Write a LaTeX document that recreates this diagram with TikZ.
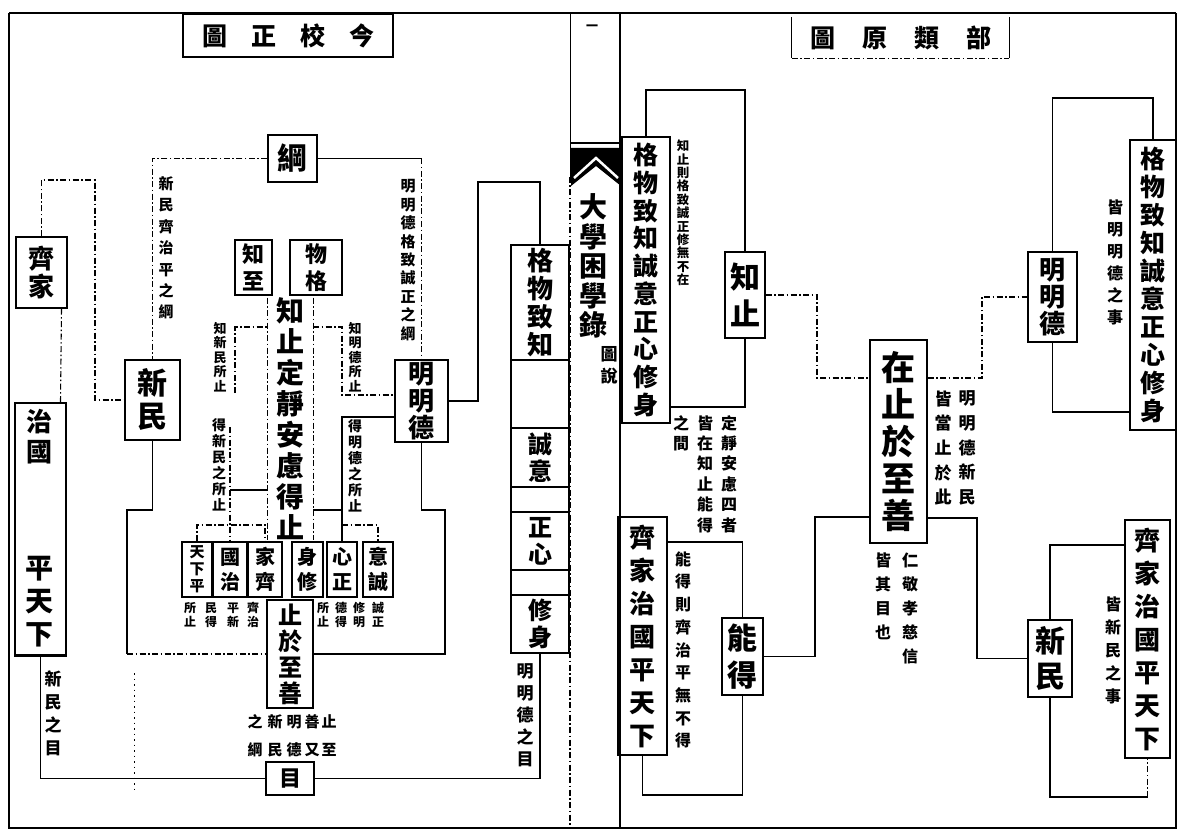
\documentclass[tikz,border=0pt]{standalone}
\usepackage{fontspec}
\setmainfont{Noto Sans CJK TC}
\usetikzlibrary{calc}
\tikzset{
 ln/.style={line width=1.3pt},
 dsh/.style={line width=1.1pt, dash pattern=on 6pt off 2.5pt on 1.5pt off 2.5pt},
 dot/.style={line width=1pt, dash pattern=on 1.5pt off 4pt},
 bx/.style={draw, line width=1.2pt, inner sep=0pt, align=center},
 vt/.style={inner sep=0pt, align=center},
 fs/.style 2 args={font=\fontsize{#1}{#2}\selectfont\bfseries}
}
\begin{document}
\begin{tikzpicture}[x=1pt,y=-1pt]
\useasboundingbox (0,0) rectangle (1183,837);
\fill[white] (0,0) rectangle (1183,837);
% frame
\draw[line width=2.6pt] (9,13) -- (1176,13);
\draw[line width=2.6pt] (9,13) -- (9,828) -- (1176,828) -- (1176,13);
% ===== left half =====
\node[bx, fs={25}{28}, minimum width=210, minimum height=43] (lt) at (288,35.5) {圖\hspace{24pt}正\hspace{24pt}校\hspace{24pt}今};
\node[bx, fs={30}{34}, minimum width=49, minimum height=47] (gang) at (292.5,158.5) {綱};
\node[bx, fs={30}{33}, minimum width=55, minimum height=80] (xinmin) at (152.5,400) {新\\民};
\node[bx, fs={26}{27}, minimum width=53, minimum height=82] (mmd) at (421.5,401) {明\\明\\德};
\node[bx, fs={26}{28}, minimum width=51, minimum height=71] (qijia) at (41.5,272.5) {齊\\家};
\node[bx, minimum width=51, minimum height=252] (lcol) at (40.5,529) {};
\node[vt, fs={26}{30}] (zhiguo) at (39,437) {治\\國};
\node[vt, fs={28}{33}] (ptx) at (39,602) {平\\天\\下};
\draw[line width=2.6pt] (lcol.south west) -- (lcol.south east);
\node[bx, fs={22}{27}, minimum width=37, minimum height=55] (zhizhi) at (253.5,267.5) {知\\至};
\node[bx, fs={22}{27}, minimum width=52, minimum height=55] (wuge) at (316,267.5) {物\\格};
\node[vt, fs={28}{31}, minimum width=45, minimum height=242] (cc) at (290.5,419) {知\\止\\定\\靜\\安\\慮\\得\\止};
\draw[dsh] (cc.north west) -- (cc.south west);
\draw[dsh] (cc.north east) -- (cc.south east);
% row boxes
\node[bx, fs={15}{17}, minimum width=30, minimum height=55] (tx) at (197,569.5) {天\\下\\平};
\node[bx, fs={20}{25}, minimum width=34, minimum height=55] (gz) at (230,569.5) {國\\治};
\node[bx, fs={20}{25}, minimum width=34, minimum height=55] (jq) at (265,569.5) {家\\齊};
\node[bx, fs={20}{25}, minimum width=31, minimum height=55] (sx) at (307.5,569.5) {身\\修};
\node[bx, fs={20}{25}, minimum width=30, minimum height=55] (xz) at (342,569.5) {心\\正};
\node[bx, fs={20}{25}, minimum width=30, minimum height=55] (yc) at (378,569.5) {意\\誠};
\node[bx, fs={24}{26}, minimum width=46, minimum height=108] (zyzs) at (290,654) {止\\於\\至\\善};
\node[bx, fs={22}{24}, minimum width=48, minimum height=33, line width=1.7pt] (mu) at (290,778.5) {目};
% column boxes
\node[bx, fs={26}{28}, minimum width=58, minimum height=115] (gwzz) at (540,302.5) {格\\物\\致\\知};
\node[bx, minimum width=58, minimum height=68] (e1) at (540,394) {};
\node[bx, fs={24}{27}, minimum width=58, minimum height=59] (cy) at (540,457.5) {誠\\意};
\node[bx, minimum width=58, minimum height=25] (e2) at (540,499.5) {};
\node[bx, fs={24}{27}, minimum width=58, minimum height=58] (zx) at (540,541) {正\\心};
\node[bx, minimum width=58, minimum height=25] (e3) at (540,582.5) {};
\node[bx, fs={24}{27}, minimum width=58, minimum height=58] (xs) at (540,624) {修\\身};
% labels left
\node[vt, fs={15}{21.4}] (l1) at (166,248) {新\\民\\齊\\治\\平\\之\\綱};
\node[vt, fs={15}{18.4}] (l2) at (408,260) {明\\明\\德\\格\\致\\誠\\正\\之\\綱};
\node[vt, fs={13}{14.6}] (l3) at (220,357) {知\\新\\民\\所\\止};
\node[vt, fs={14}{16}] (l4) at (219,465) {得\\新\\民\\之\\所\\止};
\node[vt, fs={13}{14.6}] (l5) at (355,357) {知\\明\\德\\所\\止};
\node[vt, fs={14}{16}] (l6) at (355,466) {得\\明\\德\\之\\所\\止};
\node[vt, fs={17}{23}] (l7) at (53,713) {新\\民\\之\\目};
\node[vt, fs={17}{22}] (l8) at (525,715) {明\\明\\德\\之\\目};
% sub labels under row
\node[vt, fs={12}{14}] (s1) at (190,615) {所\\止};
\node[vt, fs={12}{14}] (s2) at (211,615) {民\\得};
\node[vt, fs={12}{14}] (s3) at (233,615) {平\\新};
\node[vt, fs={12}{14}] (s4) at (253,615) {齊\\治};
\node[vt, fs={12}{14}] (s5) at (323,615) {所\\止};
\node[vt, fs={12}{14}] (s6) at (341,615) {德\\得};
\node[vt, fs={12}{14}] (s7) at (359,615) {修\\明};
\node[vt, fs={12}{14}] (s8) at (378,615) {誠\\正};
% bottom label
\node[vt, fs={15}{28}] (m1) at (255,736) {之\\綱};
\node[vt, fs={15}{28}] (m2) at (275,736) {新\\民};
\node[vt, fs={15}{28}] (m3) at (294,736) {明\\德};
\node[vt, fs={15}{28}] (m4) at (312,736) {善\\又};
\node[vt, fs={15}{28}] (m5) at (329,736) {止\\至};
% connectors left
\draw[dsh] (gang.west) -| (xinmin.north);
\draw[ln] (gang.east) -- (gang.east -| mmd.north);
\draw[dsh] (gang.east -| mmd.north) -- (mmd.north);
\coordinate (c1) at (478,182);
\draw[ln] (mmd.east) -| (c1) -| (gwzz.north);
\coordinate (c2) at (95,180);
\draw[dsh] (qijia.north) |- (c2) |- (xinmin.west);
\draw[dsh] ([xshift=20pt]qijia.south) -- ([xshift=20pt]lcol.north);
\coordinate (rl) at (127,510);
\coordinate (rr) at (445,510);
\draw[ln] (xinmin.south) |- (rl) -- (rl |- zyzs.west);
\draw[dsh] (rl |- zyzs.west) -- (zyzs.west);
\draw[ln] (mmd.south) |- (rr) |- (zyzs.east);
\draw[ln] (mu.west) -| (lcol.south);
\draw[ln] (mu.east) -| (xs.south);
% small brackets
\coordinate (b1) at (235,327);
\coordinate (b2) at (235,393);
\draw[dsh] (b2) -- (b1) -- (b1 -| cc.west);
\coordinate (b3) at (230,427);
\coordinate (b4) at (230,490);
\draw[dsh] (b3) -- (gz.north);
\draw[ln] (b4) -- (b4 -| cc.west);
\coordinate (b5) at (342,327);
\coordinate (b6) at (342,395);
\draw[dsh] (b5 -| cc.east) -- (b5) -- (b6) -- (b6 -| mmd.west);
\coordinate (b7) at (342,417);
\coordinate (b8) at (342,510);
\draw[ln] (b7 -| mmd.west) -- (b7) -- (xz.north);
\draw[ln] (b8) -- (b8 -| cc.east);
\coordinate (r1) at (0,525);
\draw[dsh] (tx.north) -- (tx.north |- r1) -- (jq.north |- r1) -- (jq.north);
\draw[dsh] (xz.north |- r1) -- (yc.north |- r1) -- (yc.north);
\draw[dot] (134,673) -- (134,790);
% ===== spine =====
\draw[line width=1pt] (570,13) -- (570,177);
\draw[dsh] (570,177) -- (570,828);
\draw[ln] (620,13) -- (620,828);
\draw[ln] (570,143) -- (620,143);
\node[vt, fs={12}{12}] (pg) at (592,28) {一};
\fill (571,148) -- (621,148) -- (621,186) -- (596,166) -- (571,186) -- cycle;
\draw[white, line width=2.5pt] (574,178) -- (596,158) -- (618,178);
\node[vt, fs={28}{29.5}] (spine) at (593,266) {大\\學\\困\\學\\錄};
\node[vt, fs={17}{22}] (tushuo) at (609,365) {圖\\說};
% ===== right half =====
\node[vt, fs={25}{28}, minimum width=217, minimum height=41] (rt) at (900.5,37.5) {圖\hspace{27pt}原\hspace{27pt}類\hspace{27pt}部};
\draw[ln] (rt.north west) -- (rt.south west);
\draw[ln] (rt.north east) -- (rt.south east);
\draw[dsh] (rt.south west) -- (rt.south east);
\node[bx, fs={25}{27.7}, minimum width=48, minimum height=286] (gz2) at (646,280) {格\\物\\致\\知\\誠\\意\\正\\心\\修\\身};
\node[bx, fs={30}{37}, minimum width=40, minimum height=86] (zz2) at (745,295) {知\\止};
\node[vt, fs={12.5}{13.4}] (l9) at (683,213) {知\\止\\則\\格\\致\\誠\\正\\修\\無\\不\\在};
\coordinate (k1) at (745,90);
\draw[ln] (gz2.north) |- (k1) -- (zz2.north);
\coordinate (k2) at (745,407);
\draw[ln] (zz2.south) -- (k2) -- (k2 -| gz2.east);
\node[bx, fs={34}{37}, minimum width=57, minimum height=203] (zs) at (898.5,441.5) {在\\止\\於\\至\\善};
\coordinate (k3) at (817,378);
\draw[dsh] (zz2.east) -| (k3) -- (k3 -| zs.west);
\node[bx, fs={30}{37}, minimum width=41, minimum height=77] (nd) at (742.5,656.5) {能\\得};
\coordinate (k4) at (815,517);
\draw[ln] (nd.east) -| (k4) -- (k4 -| zs.west);
\node[bx, fs={26}{33}, minimum width=49, minimum height=238] (qj2) at (642.5,636) {齊\\家\\治\\國\\平\\天\\下};
\node[vt, fs={16}{22.7}] (l10) at (683,650) {能\\得\\則\\齊\\治\\平\\無\\不\\得};
\coordinate (k5) at (0,542);
\draw[ln] (nd.north) -- (nd.north |- k5) -- (k5 -| qj2.east);
\coordinate (k6) at (0,795);
\draw[ln] (qj2.south) -- (qj2.south |- k6) -- (k6 -| nd.south) -- (nd.south);
\node[vt, fs={16}{20.4}] (l11) at (729,474) {定\\靜\\安\\慮\\四\\者};
\node[vt, fs={16}{20.4}] (l12) at (705,474) {皆\\在\\知\\止\\能\\得};
\node[vt, fs={16}{20.4}] (l13) at (681,433) {之\\間};
\node[bx, fs={26}{27}, minimum width=49, minimum height=90] (mmd2) at (1052.5,297) {明\\明\\德};
\coordinate (k7) at (982,378);
\draw[dsh] (k7 -| zs.east) -- (k7) |- (mmd2.west);
\node[bx, fs={25}{28}, minimum width=46, minimum height=290] (gz3) at (1153,285) {格\\物\\致\\知\\誠\\意\\正\\心\\修\\身};
\coordinate (k8) at (1153,98);
\draw[ln] (mmd2.north) |- (k8) -- (gz3.north);
\coordinate (k9) at (0,412);
\draw[ln] (mmd2.south) -- (mmd2.south |- k9) -- (k9 -| gz3.west);
\node[vt, fs={16}{22}] (l14) at (1115,262) {皆\\明\\明\\德\\之\\事};
\node[vt, fs={17}{24.6}] (l15) at (967,448) {明\\明\\德\\新\\民};
\node[vt, fs={17}{24.6}] (l16) at (943,448) {皆\\當\\止\\於\\此};
\node[bx, fs={30}{35}, minimum width=44, minimum height=77] (xm2) at (1050,658.5) {新\\民};
\coordinate (k10) at (977,518);
\draw[ln] (k10 -| zs.east) -- (k10) |- (xm2.west);
\node[bx, fs={26}{33}, minimum width=45, minimum height=238] (qj3) at (1147.5,639) {齊\\家\\治\\國\\平\\天\\下};
\coordinate (k11) at (0,545);
\draw[ln] (xm2.north) -- (xm2.north |- k11) -- (k11 -| qj3.west);
\coordinate (k12) at (0,797);
\draw[ln] (xm2.south) -- (xm2.south |- k12) -- (k12 -| qj3.south);
\draw[dsh] (k12 -| qj3.south) -- (qj3.south);
\node[vt, fs={16}{23}] (l17) at (1113,650) {皆\\新\\民\\之\\事};
\node[vt, fs={16}{24}] (l18) at (910,608) {仁\\敬\\孝\\慈\\信};
\node[vt, fs={16}{24}] (l19) at (883,596) {皆\\其\\目\\也};
\end{tikzpicture}
\end{document}
